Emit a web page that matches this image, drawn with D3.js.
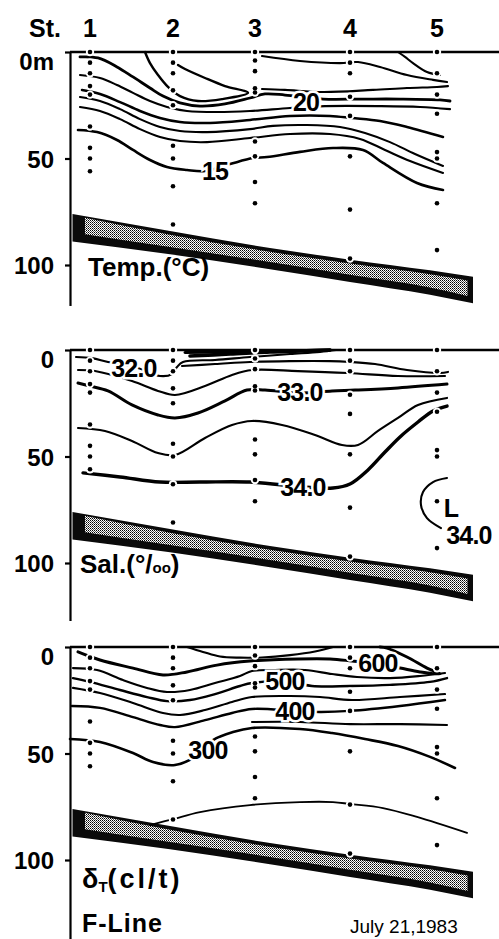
<!DOCTYPE html>
<html>
<head>
<meta charset="utf-8">
<script src="https://cdn.jsdelivr.net/npm/d3@7"></script>
<style>
  body { margin: 0; background: #fff; }
  svg { display: block; }
</style>
</head>
<body>
<div id="chart"></div>
<script>
// F-Line section, July 21 1983 : distance along the line (arbitrary km-like units), depth in m

const stations = ["1", "2", "3", "4", "5"];
const stationDist = [4, 20.6, 37, 56, 73.4];
const sampleDepths = [
  [0, 5, 10, 16, 20, 35, 45, 50, 56],
  [0, 5, 10, 18, 25, 44, 50, 63, 81],
  [0, 4, 9, 17, 19, 42, 49, 61, 71],
  [0, 5, 10, 21, 30, 49, 74, 97],
  [0, 10, 20, 29, 47, 50, 71, 93]
];

// sea bottom band (top and base depth)
const bottomDist = [0.5, 20, 40, 56, 72, 80.6];
const bottomTop  = [76, 84, 92, 97.5, 102.5, 105.5];
const bottomBase = [89, 95, 102, 108, 114, 118];

// temperature isotherms [dist, depth]
const tempContours = [
  {key: "t1", pts: [[15,0],[16,5.2],[17.6,10.8],[19.6,16.4],[22,20.7],[25.6,23.0],[30.4,22.1],[35.6,19.2],[31,16.0],[27,12.2],[23,8.0],[21.6,6.1]]},
  {key: "t2", pts: [[2,2.3],[5.6,2.8],[9.4,7.0],[12.6,11.7],[16,16.9],[18.6,20.7],[22,23.9],[26,25.4],[31,24.4],[36,21.6],[39,19.7],[43,20.2],[50.6,22.1],[58,22.1],[66,22.1],[74,22.5],[76,23.0]]},
  {key: "t3", pts: [[38.4,17.4],[43,17.8],[50.6,18.8],[60.6,17.8],[67.4,16.9],[73.4,16.4],[75.6,16.0]]},
  {key: "t4", pts: [[38.4,1.9],[46,4.2],[54,5.2],[57.6,4.7],[62,7.0],[67.4,10.8],[72.6,13.1],[75.4,14.1]]},
  {key: "t5", pts: [[65.6,0],[67,2.3],[68.6,5.2],[71.4,9.4],[74,10.8]]},
  {key: "t6", pts: [[2,10.8],[6,12.2],[9.4,15.5],[12.6,19.2],[16,23.0],[19.4,25.8],[23.4,27.7],[29.4,28.2],[36,27.7],[44,26.3],[51,25.4],[62,25.4],[70,25.8],[76,26.8]]},
  {key: "t7", pts: [[2.4,17.8],[6,19.7],[10,23.5],[14,27.7],[18,31.0],[22,32.9],[28,33.3],[36,31.9],[44,30.0],[52,30.0],[56.4,31.0],[62,32.4],[67.4,35.2],[74.6,39.9]]},
  {key: "t8", pts: [[2,21.1],[6,23.0],[10,26.8],[14,31.5],[18,35.2],[22,37.1],[27.4,37.6],[36,36.2],[40.6,34.7],[47.4,34.3],[54,35.2],[59,38.0],[64,42.3],[69,47.9],[74.6,53.5]]},
  {key: "t9", pts: [[2,25.8],[6,27.7],[10,31.5],[14,36.2],[18,39.9],[22,41.8],[27.4,42.3],[36,40.4],[44,38.5],[52,38.5],[58,40.8],[63,46.0],[68,51.2],[74.6,56.8]]},
  {key: "t10", pts: [[1.6,36.6],[5.4,37.6],[9.4,41.3],[12.6,46.0],[16,50.7],[19.4,54.0],[23.4,55.4],[27,55.9],[32,52.6],[36.6,49.8],[39.4,49.3],[46,46.9],[52.6,45.1],[58.6,46.0],[62.6,52.1],[69.4,61.5],[74.6,64.8]]}
];
const tempLabels = [
  {text: "20", d: 47.2, z: 23.5},
  {text: "15", d: 29, z: 56}
];

// salinity isohalines
const salContours = [
  {key: "s1", pts: [[1.2,3.3],[4.4,3.8],[7.6,5.6],[13,8.0],[18,12.2],[20.4,11.3],[21.4,8.0],[22.6,5.6],[29,4.7],[36,3.3],[44,1.9],[50,0.9],[53.2,0]]},
  {key: "s2", pts: [[24,2.8],[32,1.9],[40,0.9],[46,0.5],[52,0]]},
  {key: "s2b", pts: [[23,1.2],[30,0.9],[38,0.6],[46,0.3],[52,0]]},
  {key: "s3", pts: [[22.4,7.5],[29,6.6],[36,5.6],[44,5.2],[52,5.2],[56,5.6],[61,6.6],[67.4,9.4],[74,10.8],[75.6,10.3]]},
  {key: "s4", pts: [[1.6,9.4],[5,9.9],[12.4,14.6],[17.6,19.2],[21,21.1],[27,16.9],[32.4,11.7],[36.4,9.4],[45.6,9.9],[55.6,10.8],[65.6,12.2],[75,12.2]]},
  {key: "s5", pts: [[1.6,15.5],[4,16.9],[7.6,19.2],[12.4,25.8],[17.6,30.5],[21,31.9],[25.6,29.6],[31,23.9],[35.4,18.8],[39,18.8],[46,20.2],[52.4,19.2],[57,18.8],[65.6,17.8],[75.4,16.0]]},
  {key: "s6", pts: [[1.6,36.6],[7,38.0],[12.4,42.7],[17.6,48.4],[21,49.3],[27,41.3],[32.4,35.2],[36.4,33.3],[42.4,35.2],[49,39.9],[54.4,44.6],[57.6,44.6],[61.6,38.0],[65.6,31.9],[69.6,25.8],[75.4,22.5]]},
  {key: "s7", pts: [[2.6,57.7],[10,59.6],[18,62.0],[26,62.0],[36,62.0],[46.6,64.3],[52.6,64.8],[56,62.9],[59.6,56.3],[63,47.9],[66,40.8],[69.6,33.8],[72.6,28.6],[75.4,26.3]]},
  {key: "s8", pts: [[75.4,60.1],[72.6,62.0],[70.6,66.7],[70.2,72.8],[71.4,78.9],[74.2,83.6]]}
];
const salLabels = [
  {text: "32.0", d: 12.8, z: 8.5},
  {text: "33.0", d: 46, z: 19.7},
  {text: "34.0", d: 46.6, z: 64.3},
  {text: "L", d: 76.2, z: 74},
  {text: "34.0", d: 79.8, z: 86.7}
];

// sigma-t (cl/t)
const sigContours = [
  {key: "g1", pts: [[23.4,0],[26.6,2.3],[30,4.5],[34,5.0],[38.4,4.9],[44,3.8],[49,2.1],[52.6,0]]},
  {key: "g2", pts: [[1.6,2.3],[6,6.1],[12.6,9.9],[18.6,13.1],[23.4,11.7],[29.4,8.5],[36,6.6],[45.6,5.6],[52,5.6],[56.4,6.6],[61.6,8.0],[66,9.9],[70,11.7],[74,12.6],[71.4,9.9],[67.4,4.7],[63.4,0.5],[62,0]]},
  {key: "g3", pts: [[0.6,9.9],[5.4,10.8],[10.6,15.5],[15.4,19.2],[19.4,21.1],[24,20.2],[29,16.9],[34,13.6],[36.4,11.3],[41,10.8],[47,10.8],[52.4,12.7],[57.4,14.1],[64,14.6],[70,13.6],[75,12.2]]},
  {key: "g4", pts: [[0.6,14.6],[4,16.4],[10,20.2],[15.4,23.5],[19.4,25.4],[24,24.9],[29,22.1],[34,18.3],[36.4,16.9],[43,16.0],[48.4,18.3],[56,18.3],[64,17.8],[72,16.4],[75.4,14.6]]},
  {key: "g5", pts: [[0.6,19.2],[6,21.6],[12.6,26.3],[18.6,31.0],[22,31.9],[27,29.6],[32.4,25.8],[36.4,23.5],[44,23.0],[50,23.5],[56.4,24.9],[66,23.5],[75,22.1]]},
  {key: "g6", pts: [[0.4,27.7],[6,28.6],[12.6,32.9],[18,36.6],[21,37.6],[27,34.3],[32.4,31.0],[36.4,29.1],[45,30.0],[50,30.5],[56,30.0],[66,27.7],[75,24.9]]},
  {key: "g7", pts: [[36.4,35.2],[46,35.2],[56,36.2],[66,36.2],[75.4,36.6]]},
  {key: "g8", pts: [[0,43.2],[6,44.6],[12.6,49.8],[16.6,54.0],[21,55.4],[25,51.6],[28.6,43.7],[32.6,39.9],[36.4,38.0],[46,38.5],[52.4,40.4],[59,43.2],[65.6,46.5],[72,51.6],[77,56.8]]},
  {key: "g9", pts: [[16,83.6],[20.6,80.8],[26,77.5],[36,74.2],[46,72.8],[52.6,72.8],[56,73.7],[62.6,75.6],[69.4,79.8],[79.4,87.3]]}
];
const sigLabels = [
  {text: "600", d: 61.6, z: 7.5},
  {text: "500", d: 43, z: 16},
  {text: "400", d: 45, z: 30},
  {text: "300", d: 27.6, z: 48.4}
];

const depthTicks = [0, 50, 100];

// ---------------------------------------------------------------
const W = 499, H = 939;
const pxPerM = 2.13;
const lineWidth = {t1: 2.4, t2: 2.8, t7: 2.5, t10: 2.6, s2: 3.6, s2b: 3, s5: 3, s7: 3.4,
                   g2: 3, g4: 2.4, g6: 2.4, g8: 2.6, g9: 1.8};

const svg = d3.select("#chart").append("svg")
  .attr("width", W)
  .attr("height", H)
  .style("font-family", "'Liberation Sans', Arial, sans-serif");

// stipple for the bottom band
const pat = svg.append("defs").append("pattern")
  .attr("id", "stipple")
  .attr("width", 2).attr("height", 2)
  .attr("patternUnits", "userSpaceOnUse");
pat.append("rect").attr("width", 2).attr("height", 2).attr("fill", "#fff");
pat.append("rect").attr("x", 0).attr("y", 0).attr("width", 1).attr("height", 1).attr("fill", "#000");
pat.append("rect").attr("x", 1).attr("y", 1).attr("width", 1).attr("height", 1).attr("fill", "#555");

const x = d3.scaleLinear().domain([0, 86]).range([70, 500]);

const panels = [
  {top: 52,  maxDepth: 119, contours: tempContours, labels: tempLabels, zero: "0m"},
  {top: 350, maxDepth: 127, contours: salContours,  labels: salLabels,  zero: "0"},
  {top: 647, maxDepth: 137, contours: sigContours,  labels: sigLabels,  zero: "0"}
];

const bottom = bottomDist.map((d, i) => [d, bottomTop[i], bottomBase[i]]);

panels.forEach(p => {
  const y = d3.scaleLinear().domain([0, p.maxDepth]).range([p.top, p.top + p.maxDepth * pxPerM]);
  const g = svg.append("g");

  // sea bottom
  const area = d3.area()
    .x(d => x(d[0]))
    .y0(d => y(d[1]))
    .y1(d => y(d[2]))
    .curve(d3.curveMonotoneX);
  g.append("path").datum(bottom).attr("d", area).attr("fill", "#0a0a0a");
  const inner = bottom.map(b => [Math.min(Math.max(b[0], 3), 79.5), b[1] + 1.8, b[2] - 3.4]);
  g.append("path").datum(inner).attr("d", area).attr("fill", "url(#stipple)");

  // contours
  const line = d3.line()
    .x(d => x(d[0]))
    .y(d => y(d[1]))
    .curve(d3.curveCatmullRom.alpha(0.5));
  g.selectAll(".contour")
    .data(p.contours)
    .enter().append("path")
    .attr("class", "contour")
    .attr("d", d => line(d.pts))
    .attr("fill", "none")
    .attr("stroke", "#000")
    .attr("stroke-linecap", "round")
    .attr("stroke-width", d => lineWidth[d.key] || 2.1);

  // sea surface
  g.append("path")
    .datum([[0, 0], [86, 0]])
    .attr("d", d3.line().x(d => x(d[0])).y(d => y(d[1])))
    .attr("stroke", "#000")
    .attr("stroke-width", 2.4);

  // depth axis
  const axis = g.append("g")
    .attr("transform", "translate(" + x(0) + ",0)")
    .call(d3.axisLeft(y)
      .tickValues(depthTicks)
      .tickSize(5)
      .tickSizeOuter(0)
      .tickPadding(11)
      .tickFormat(d => d === 0 ? p.zero : d));
  axis.select(".domain").attr("stroke-width", 2.2);
  axis.selectAll(".tick line").attr("stroke-width", 2.2);
  axis.selectAll(".tick text")
    .attr("font-family", "'Liberation Sans', Arial, sans-serif")
    .attr("font-size", 24)
    .attr("font-weight", "bold")
    .attr("fill", "#000")
    .attr("dy", d => d === 0 ? "0.72em" : "0.36em");

  // contour values
  g.selectAll(".clabel")
    .data(p.labels)
    .enter().append("text")
    .attr("class", "clabel")
    .attr("x", d => x(d.d))
    .attr("y", d => y(d.z))
    .attr("text-anchor", "middle")
    .attr("dominant-baseline", "central")
    .attr("font-size", 25)
    .attr("font-weight", "bold")
    .attr("letter-spacing", -0.8)
    .attr("stroke", "#fff")
    .attr("stroke-width", 5)
    .attr("paint-order", "stroke")
    .attr("fill", "#000")
    .text(d => d.text);

  // sampling points
  const pts = [];
  stationDist.forEach((sd, i) => sampleDepths[i].forEach(z => pts.push([sd, z])));
  g.selectAll(".halo").data(pts).enter().append("circle")
    .attr("cx", d => x(d[0])).attr("cy", d => y(d[1]))
    .attr("r", 4.2).attr("fill", "#fff");
  g.selectAll(".obs").data(pts).enter().append("circle")
    .attr("cx", d => x(d[0])).attr("cy", d => y(d[1]))
    .attr("r", 2.3).attr("fill", "#000");
});

// station numbers
svg.append("text")
  .attr("x", 29).attr("y", 37)
  .attr("font-size", 25).attr("font-weight", "bold")
  .text("St.");
svg.selectAll(".stn")
  .data(stations)
  .enter().append("text")
  .attr("class", "stn")
  .attr("x", (d, i) => x(stationDist[i]))
  .attr("y", 37)
  .attr("text-anchor", "middle")
  .attr("font-size", 25)
  .attr("font-weight", "bold")
  .text(d => d);

// panel titles
svg.append("text")
  .attr("x", 88).attr("y", 276)
  .attr("font-size", 26).attr("font-weight", "bold")
  .text("Temp.(°C)");

const sal = svg.append("text")
  .attr("x", 80).attr("y", 573)
  .attr("font-size", 26).attr("font-weight", "bold");
sal.append("tspan").text("Sal.(°/");
sal.append("tspan").attr("font-size", 15).text("oo");
sal.append("tspan").text(")");

const sig = svg.append("text")
  .attr("x", 82).attr("y", 888)
  .attr("font-size", 27).attr("font-weight", "bold");
sig.append("tspan").text("δ");
sig.append("tspan").attr("font-size", 15).attr("dy", 4).text("T");
sig.append("tspan").attr("dy", -4).attr("letter-spacing", 3).text("(cl/t)");

svg.append("text")
  .attr("x", 82).attr("y", 932)
  .attr("font-size", 25).attr("font-weight", "bold")
  .attr("letter-spacing", 1)
  .text("F-Line");

svg.append("text")
  .attr("x", 350).attr("y", 933)
  .attr("font-size", 19)
  .text("July 21,1983");
</script>
</body>
</html>
